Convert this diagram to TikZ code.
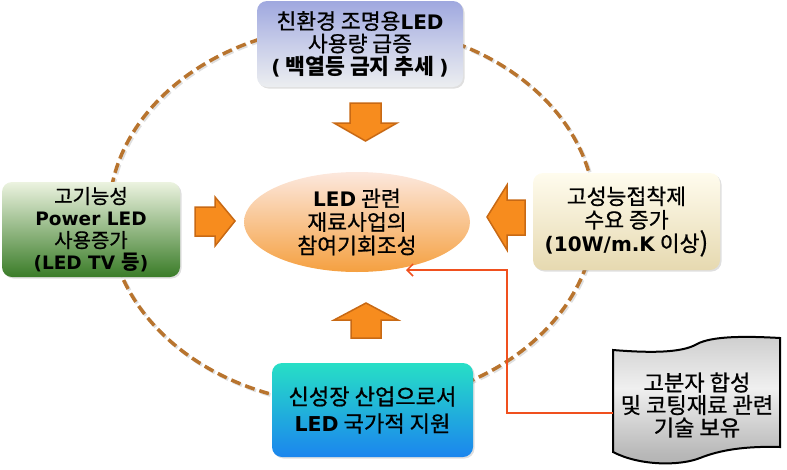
\documentclass[tikz,border=0pt]{standalone}
\usepackage{fontspec}
\setmainfont{Noto Sans CJK KR}[Scale=1.08, UprightFeatures={FakeBold=0.8}]
\newfontfamily\verd{DejaVu Sans}
\usetikzlibrary{shadows,arrows.meta,shapes.geometric}
\newcommand\bL[1]{{\verd\bfseries #1}}
\definecolor{dashc}{HTML}{B8742E}
\definecolor{arrf}{HTML}{F78C1E}
\definecolor{arrd}{HTML}{C86914}
\definecolor{redl}{HTML}{F0501E}
\pgfdeclareverticalshading{flagshade}{100bp}{color(0bp)=(orange!85!yellow); color(12bp)=(gray!75); color(30bp)=(gray!55); color(55bp)=(gray!12); color(80bp)=(gray!45); color(100bp)=(gray!85!black)}
\begin{document}
\begin{tikzpicture}[x=1pt,y=-1pt,
  box/.style={rounded corners=10pt, inner sep=0pt, align=center,
    drop shadow={opacity=0.25, shadow xshift=1.5pt, shadow yshift=-1.5pt}},
  blockarrow/.style={fill=arrf, draw=arrd, line width=1.5pt, line join=miter},
  redline/.style={draw=redl, line width=1.5pt, -{Straight Barb[length=6pt,width=12pt]}},
  ring/.style={draw=dashc, line width=3.5pt, dash pattern=on 10pt off 5pt}]
\useasboundingbox (0,0) rectangle (787,469);

% dashed ring
\draw[ring, draw=gray!50, opacity=0.5] (353.5,216.5) ellipse [x radius=243pt, y radius=190pt];
\draw[ring] (352,215) ellipse [x radius=243pt, y radius=190pt];

% boxes
\node[box, minimum width=206pt, minimum height=86pt, top color={rgb,255:red,159;green,168;blue,223}, bottom color={rgb,255:red,236;green,238;blue,240}, middle color={rgb,255:red,200;green,205;blue,233},
  font=\fontsize{20}{22.5}\selectfont] (top) at (360,44)
  {친환경 조명용\bL{LED}\\사용량 급증\\{\bfseries\bL{(} 백열등 금지 추세 \bL{)}}};

\node[box, minimum width=178pt, minimum height=95pt, top color={rgb,255:red,236;green,243;blue,224}, middle color={rgb,255:red,150;green,194;blue,120}, bottom color={rgb,255:red,58;green,124;blue,40},
  font=\fontsize{18.5}{22}\selectfont] (left) at (91,229.5)
  {고기능성\\\bL{Power LED}\\사용증가\\\bL{(LED TV }\textbf{등}\bL{)}};

\node[box, minimum width=187pt, minimum height=97pt, top color={rgb,255:red,255;green,252;blue,238}, bottom color={rgb,255:red,230;green,217;blue,176},
  font=\fontsize{20}{23.5}\selectfont] (right) at (626.5,221.5)
  {고성능접착제\\수요 증가\\\bL{(10W/m.K} 이상{\fontsize{24}{22}\selectfont)}};

\node[box, minimum width=201pt, minimum height=94pt, top color={rgb,255:red,39;green,223;blue,198}, middle color={rgb,255:red,31;green,184;blue,218}, bottom color={rgb,255:red,27;green,133;blue,238},
  font=\fontsize{20.5}{27}\selectfont] (bottom) at (372.5,410)
  {신성장 산업으로서\\\bL{LED} 국가적 지원};

\node[ellipse, inner sep=0pt, minimum width=226pt, minimum height=100pt, align=center, top color={rgb,255:red,252;green,232;blue,222}, middle color={rgb,255:red,248;green,194;blue,140}, bottom color={rgb,255:red,245;green,160;blue,64},
  font=\fontsize{20}{23.5}\selectfont] (center) at (357,222)
  {\bL{LED} 관련\\재료사업의\\참여기회조성};

% block arrows
\draw[blockarrow] (350,103) -- (381,103) -- (381,123) -- (397,123) -- (365.5,141) -- (334,123) -- (350,123) -- cycle;
\draw[blockarrow] (351,338) -- (381,338) -- (381,320) -- (398,320) -- (366,303) -- (334,320) -- (351,320) -- cycle;
\draw[blockarrow] (195,207) -- (215,207) -- (215,197) -- (235,221) -- (215,246) -- (215,236) -- (195,236) -- cycle;
\draw[blockarrow] (525,200) -- (507,200) -- (507,185) -- (487,217) -- (507,250) -- (507,235) -- (525,235) -- cycle;

% wavy flag
\path[draw=black, line width=2pt, shading=flagshade]
  (613,350) .. controls (650,353) and (682,353) .. (697,344)
  .. controls (712,336) and (745,336) .. (780,338)
  -- (780,447)
  .. controls (745,446) and (720,450) .. (700,458)
  .. controls (680,466) and (640,466) .. (613,452) -- cycle;
\node[align=center, font=\fontsize{20.5}{22.5}\selectfont] (flag) at (697,405)
  {고분자 합성\\및 코팅재료 관련\\기술 보유};

% connector
\coordinate (flagW) at (613,413);
\coordinate (bend) at (507,270);
\coordinate (tipE) at (406,270);
\draw[redline] (flagW) -| (bend) -- (tipE);
\end{tikzpicture}
\end{document}
